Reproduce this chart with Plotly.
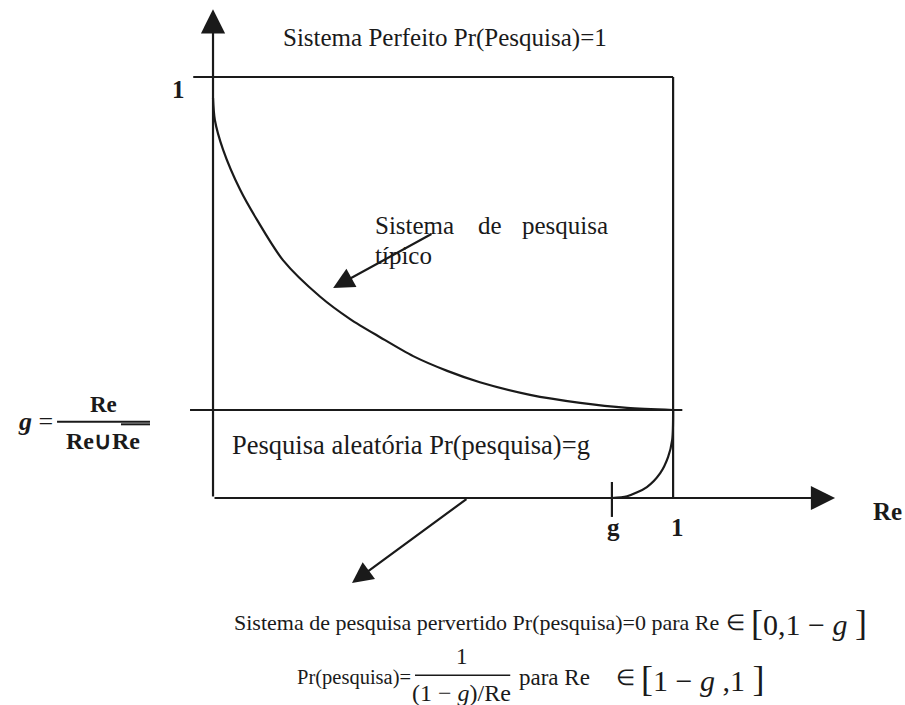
import plotly.graph_objects as go

# Random-search level (precision of a random retrieval system)
g = 0.209

# Typical retrieval system: precision falling from 1 towards g as recall grows
typ_re = [0.0, 0.004, 0.022, 0.059, 0.096, 0.152, 0.233, 0.298, 0.363, 0.435,
          0.509, 0.580, 0.689, 0.798, 0.900, 1.0]
typ_pr = [0.95, 0.898, 0.827, 0.732, 0.660, 0.565, 0.478, 0.425, 0.382, 0.337,
          0.302, 0.275, 0.245, 0.226, 0.214, g]

# Perverted system: zero precision up to the tick, then rising to g at recall 1
perv_re = [0.867, 0.900, 0.943, 0.972, 0.989, 0.998, 1.0]
perv_pr = [0.0, 0.004, 0.026, 0.059, 0.097, 0.138, g]

tick_re = 0.867
tick_labels = ["g", "1"]

INK = "#1a1a1a"
FONT = "Liberation Serif, Times New Roman, serif"
LW = 2.2
SP = "\u00a0"

fig = go.Figure()

def seg(xs, ys, width=LW):
    fig.add_trace(go.Scatter(x=xs, y=ys, mode="lines", hoverinfo="skip",
                             line=dict(color=INK, width=width), showlegend=False))

# Frame: perfect system (precision 1), random level g, right edge at recall 1
seg([-0.043, 1.0], [1.0, 1.0])
seg([-0.050, 1.02], [g, g])
seg([1.0, 1.0], [0.0, 1.0])
seg([tick_re, tick_re], [-0.045, 0.038])

# Curves
fig.add_trace(go.Scatter(x=typ_re, y=typ_pr, mode="lines", line_shape="spline",
                         line=dict(color=INK, width=LW, smoothing=0.8),
                         hoverinfo="skip", showlegend=False))
fig.add_trace(go.Scatter(x=perv_re, y=perv_pr, mode="lines", line_shape="spline",
                         line=dict(color=INK, width=LW, smoothing=0.8),
                         hoverinfo="skip", showlegend=False))

def arrow(x, y, ax, ay, size=2.2):
    fig.add_annotation(x=x, y=y, ax=ax, ay=ay, xref="x", yref="y", axref="x", ayref="y",
                       text="", showarrow=True, arrowhead=2, arrowsize=size,
                       arrowwidth=LW, arrowcolor=INK, standoff=0, startstandoff=0)

# Axes with arrow heads
arrow(1.352, 0.0, 0.0, 0.0)
arrow(0.0, 1.161, 0.0, 0.0)
# Pointers to the labels
arrow(0.261, 0.499, 0.478, 0.629, 1.9)
arrow(0.302, -0.202, 0.554, 0.0, 1.9)

def txt(x, y, s, size=25, xanchor="center", yanchor="middle"):
    fig.add_annotation(x=x, y=y, xref="x", yref="y", text=s, showarrow=False,
                       xanchor=xanchor, yanchor=yanchor,
                       font=dict(family=FONT, size=size, color=INK))

BR_L = "<span style='font-size:36px'>[</span>"
BR_R = "<span style='font-size:36px'>]</span>"

txt(0.504, 1.093, "Sistema Perfeito Pr(Pesquisa)=1")
txt(-0.074, 0.971, "<b>1</b>")

# g = Re / (Re ∪ Re-bar)
txt(-0.343, 0.181, "<b><i>g</i></b> =", size=26, xanchor="right")
txt(-0.237, 0.223, "<b>Re</b>", size=23)
txt(-0.239, 0.136, "<b>Re∪Re</b>", size=24)
fig.add_shape(type="line", x0=-0.339, x1=-0.137, y0=0.181, y1=0.181,
              line=dict(color=INK, width=2))
fig.add_shape(type="line", x0=-0.200, x1=-0.137, y0=0.175, y1=0.175,
              line=dict(color=INK, width=2))

txt(0.037, 0.126, "Pesquisa aleatória Pr(pesquisa)=g", size=26.5, xanchor="left")

txt(0.348, 0.648, "Sistema", xanchor="left")
txt(0.572, 0.648, "de", xanchor="left")
txt(0.667, 0.648, "pesquisa", xanchor="left")
txt(0.348, 0.575, "típico", xanchor="left")

txt(tick_re + 0.003, -0.069, "<b>" + tick_labels[0] + "</b>")
txt(1.009, -0.069, "<b>" + tick_labels[1] + "</b>")
txt(1.467, -0.033, "<b>Re</b>")

# Perverted system definition, first line
txt(0.041, -0.295, "Sistema de pesquisa pervertido Pr(pesquisa)=0 para Re",
    size=22, xanchor="left")
txt(1.135, -0.295, "∈", size=22)
txt(1.165, -0.297,
    BR_L + "0,1" + SP + "−" + SP + "<i>g</i>" + SP + BR_R,
    size=30, xanchor="left")

# Second line: Pr = 1 / ((1-g)/Re) on [1-g, 1]
txt(0.435, -0.427, "Pr(pesquisa)=", size=20.5, xanchor="right")
txt(0.541, -0.377, "1", size=23)
txt(0.541, -0.462, "(1 − <i>g</i>)/Re", size=24)
fig.add_shape(type="line", x0=0.439, x1=0.646, y0=-0.421, y1=-0.421,
              line=dict(color=INK, width=1.6))
txt(0.661, -0.427, "para Re", size=23, xanchor="left")
txt(0.896, -0.427, "∈", size=22)
txt(0.926, -0.429,
    BR_L + "1" + SP + "−" + SP + "<i>g</i>" + SP + ",1" + SP + BR_R,
    size=30, xanchor="left")

fig.update_layout(
    width=905, height=705,
    margin=dict(l=0, r=0, t=0, b=0),
    paper_bgcolor="white", plot_bgcolor="white",
    xaxis=dict(range=[-0.463, 1.504], visible=False, fixedrange=True),
    yaxis=dict(range=[-0.4917, 1.1829], visible=False, fixedrange=True),
    showlegend=False,
)

fig.write_html("out.html")
